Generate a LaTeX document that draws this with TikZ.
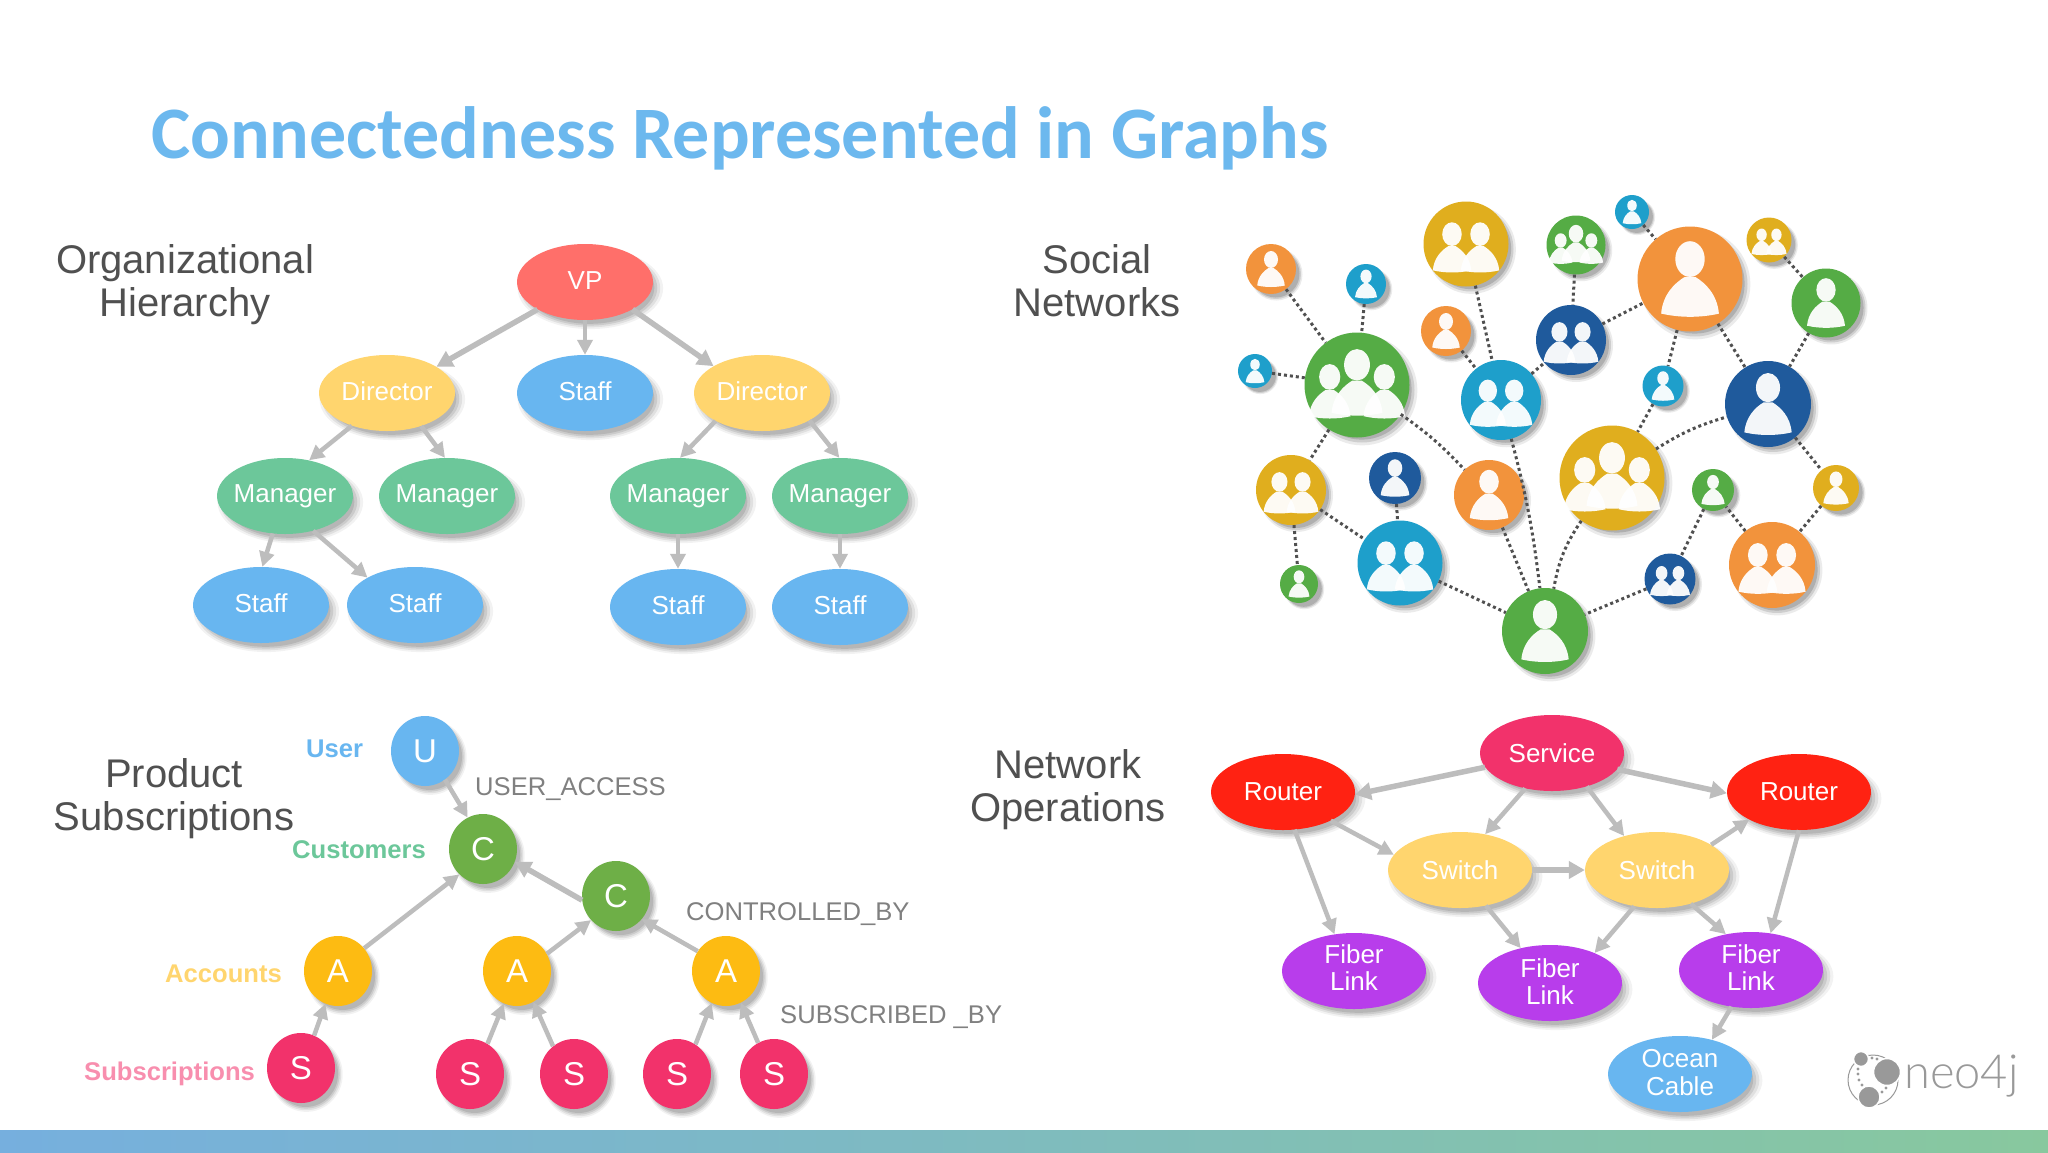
\documentclass[tikz,border=0pt]{standalone}
\usepackage{fontspec}
\setmainfont{Liberation Sans}
\newfontfamily\titlefont{Carlito}
\newfontfamily\logofont{Lato Light}
\usetikzlibrary{shapes.geometric,arrows.meta,shadows}

\definecolor{titleblue}{HTML}{6CB8EE}
\definecolor{headgrey}{HTML}{505050}
\definecolor{relgrey}{HTML}{808080}
\definecolor{edgegrey}{HTML}{BDBDBD}
\definecolor{dotgrey}{HTML}{505050}
\definecolor{cred}{HTML}{FF6F6A}
\definecolor{cyellow}{HTML}{FFD56E}
\definecolor{cblue}{HTML}{68B6F0}
\definecolor{cgreen}{HTML}{6CC79A}
\definecolor{cleaf}{HTML}{6EAF47}
\definecolor{camber}{HTML}{FDBB12}
\definecolor{cpink}{HTML}{F2326B}
\definecolor{crouter}{HTML}{FF2212}
\definecolor{cpurple}{HTML}{B83DEB}
\definecolor{sorange}{HTML}{F2933C}
\definecolor{steal}{HTML}{1E9FCB}
\definecolor{sgreen}{HTML}{55AC45}
\definecolor{snavy}{HTML}{1F5A9C}
\definecolor{syellow}{HTML}{E0AE1E}
\definecolor{bandl}{HTML}{76AFDE}
\definecolor{bandr}{HTML}{88C89E}
\definecolor{logogrey}{HTML}{999999}

\tikzset{
  x=1pt, y=-1pt,
  softshadow/.style={
    general shadow={shadow xshift=5pt,shadow yshift=-6pt,shadow scale=1.07,fill=black,opacity=.05},
    general shadow={shadow xshift=5pt,shadow yshift=-6pt,shadow scale=1.03,fill=black,opacity=.07},
    general shadow={shadow xshift=5pt,shadow yshift=-6pt,shadow scale=.99,fill=black,opacity=.09},
    general shadow={shadow xshift=5pt,shadow yshift=-6pt,shadow scale=.95,fill=black,opacity=.1}},
  heading/.style={align=center,text=headgrey,font=\fontsize{40}{43}\selectfont,inner sep=0},
  big/.style={ellipse,minimum width=136pt,minimum height=76pt,inner sep=-6pt,text=white,align=center,
    font=\fontsize{26}{27.5}\selectfont,softshadow},
  net/.style={big,minimum width=144pt},
  letter/.style={ellipse,minimum width=68pt,minimum height=70pt,inner sep=0,text=white,
    font=\fontsize{33}{33}\selectfont,softshadow},
  kind/.style={font=\fontsize{25.6}{26}\bfseries\selectfont,inner sep=0},
  rel/.style={text=relgrey,font=\fontsize{25.6}{26}\selectfont,inner sep=0},
  arrow/.style={draw=edgegrey,line width=5.5pt,-{Triangle[length=16pt,width=17pt]}},
  arrowthin/.style={arrow,line width=4.5pt,-{Triangle[length=15pt,width=15pt]}},
  soc/.style={circle,inner sep=0,minimum size=#1,
    general shadow={shadow xshift=5pt,shadow yshift=-5pt,shadow scale=1.05,fill=black,opacity=.08},
    general shadow={shadow xshift=5pt,shadow yshift=-5pt,shadow scale=1,fill=black,opacity=.12},
    general shadow={shadow xshift=5pt,shadow yshift=-5pt,shadow scale=.95,fill=black,opacity=.15}},
  link/.style={draw=dotgrey,line width=3pt,dash pattern=on 3pt off 3pt},
  pics/one/.style={code={\manat{0}{0}{1}}},
  pics/two/.style={code={\manat{-.33}{.08}{.82}\manat{.33}{.08}{.82}}},
  pics/three/.style={code={\manat{-.52}{.12}{.72}\manat{.52}{.12}{.72}\manat{0}{-.05}{.88}}},
}
\newcommand{\manat}[3]{%
  \begin{scope}[shift={(#1,#2)},scale=#3]
    \fill[white,opacity=.95] (0,-.38) ellipse (.28 and .34);
    \fill[white,opacity=.95] (-.55,.66) .. controls (-.52,.3) and (-.3,.08) .. (-.1,-.04)
      -- (.1,-.04) .. controls (.3,.08) and (.52,.3) .. (.55,.66) .. controls (.2,.74) and (-.2,.74) .. cycle;
  \end{scope}}

\begin{document}
\begin{tikzpicture}
  \useasboundingbox (0,0) rectangle (2048,1152);
  \fill[white] (0,0) rectangle (2048,1152);
  \shade[left color=bandl,right color=bandr] (0,1130) rectangle (2048,1152);

  \node[anchor=base west,inner sep=0,text=titleblue,font=\titlefont\fontsize{74}{74}\bfseries\selectfont] (title) at (151,158) {Connectedness Represented in Graphs};

  % organizational hierarchy
  \node[heading] (hOrg) at (185,285) {Organizational\\Hierarchy};
  \node[big,fill=cred,text depth=3pt] (vp) at (585,282) {VP};
  \node[big,fill=cyellow,text depth=3pt] (dl) at (387,393) {Director};
  \node[big,fill=cblue,text depth=3pt] (st) at (585,393) {Staff};
  \node[big,fill=cyellow,text depth=3pt] (dr) at (762,393) {Director};
  \node[big,fill=cgreen] (m1) at (285,496) {Manager};
  \node[big,fill=cgreen] (m2) at (447,496) {Manager};
  \node[big,fill=cgreen] (m3) at (678,496) {Manager};
  \node[big,fill=cgreen] (m4) at (840,496) {Manager};
  \node[big,fill=cblue,text depth=3pt] (s1) at (261,605) {Staff};
  \node[big,fill=cblue,text depth=3pt] (s2) at (415,605) {Staff};
  \node[big,fill=cblue,text depth=3pt] (s3) at (678,607) {Staff};
  \node[big,fill=cblue,text depth=3pt] (s4) at (840,607) {Staff};
  \draw[arrow] (vp.210) -- (dl.28);
  \draw[arrowthin] (vp.south) -- (st.north);
  \draw[arrow] (vp.330) -- (dr.151);
  \draw[arrowthin] (dl.223) -- (m1.56);
  \draw[arrowthin] (dl.316) -- (m2.93);
  \draw[arrowthin] (m1.252) -- (s1.88);
  \draw[arrowthin] (m1.309) -- (s2.150);
  \draw[arrowthin] (dr.211) -- (m3.87);
  \draw[arrowthin] (dr.330) -- (m4.91);
  \draw[arrowthin] (m3.south) -- (s3.north);
  \draw[arrowthin] (m4.south) -- (s4.north);

  % product subscriptions
  \node[heading] (hProd) at (174,799) {Product\\Subscriptions};
  \node[letter,fill=cblue] (u) at (425,751) {U};
  \node[letter,fill=cleaf] (c1) at (483,849) {C};
  \node[letter,fill=cleaf] (c2) at (616,896) {C};
  \node[letter,fill=camber] (a1) at (338,971) {A};
  \node[letter,fill=camber] (a2) at (517,971) {A};
  \node[letter,fill=camber] (a3) at (726,971) {A};
  \node[letter,fill=cpink] (p1) at (301,1068) {S};
  \node[letter,fill=cpink] (p2) at (470,1074) {S};
  \node[letter,fill=cpink] (p3) at (574,1074) {S};
  \node[letter,fill=cpink] (p4) at (677,1074) {S};
  \node[letter,fill=cpink] (p5) at (774,1074) {S};
  \draw[arrowthin] (u.305) -- (c1.116);
  \draw[arrow] (c2.187) -- (c1.338);
  \draw[arrowthin] (a1.41) -- (c1.227);
  \draw[arrowthin] (a2.30) -- (c2.224);
  \draw[arrowthin] (a3.145) -- (c2.318);
  \draw[arrowthin] (p1.68) -- (a1.249);
  \draw[arrowthin] (p2.60) -- (a2.248);
  \draw[arrowthin] (p3.127) -- (a2.298);
  \draw[arrowthin] (p4.58) -- (a3.246);
  \draw[arrowthin] (p5.117) -- (a3.295);
  \node[kind,text=cblue,anchor=west] (kU) at (306,749) {User};
  \node[kind,text=cgreen,anchor=west] (kC) at (292,850) {Customers};
  \node[kind,text=cyellow,anchor=west] (kA) at (165,974) {Accounts};
  \node[kind,text=cpink!55,anchor=west] (kS) at (84,1074) {Subscriptions};
  \node[rel,anchor=west] (rU) at (475,789) {USER\_ACCESS};
  \node[rel,anchor=west] (rC) at (686,914) {CONTROLLED\_BY};
  \node[rel,anchor=west] (rS) at (780,1017) {SUBSCRIBED \_BY};

  % social networks
  \node[heading] (hSoc) at (1097,281) {Social\\Networks};
  \foreach \nm/\xx/\yy/\dd/\cc/\ic in {
    a/1271/269/50/sorange/one, b/1366/284/40/steal/one, c/1466/244/85/syellow/two,
    d/1576/245/59/sgreen/three, e/1632/212/34/steal/one, f/1690/279/105/sorange/one,
    g/1769/240/45/syellow/two, h/1826/303/69/sgreen/one, i/1446/331/50/sorange/one,
    j/1571/340/70/snavy/two, k/1255/371/34/steal/one, l/1357/385/105/sgreen/three,
    m/1501/400/80/steal/two, n/1663/386/41/steal/one, o/1768/404/86/snavy/one,
    q/1291/490/70/syellow/two, r/1395/478/52/snavy/one, t/1489/495/70/sorange/one,
    v/1612/478/105/syellow/three, w/1713/490/42/sgreen/one, z/1836/488/46/syellow/one,
    A/1400/563/85/steal/two, B/1299/584/38/sgreen/one, C/1670/579/51/snavy/two,
    D/1772/565/86/sorange/two, E/1545/631/86/sgreen/one} {
    \node[soc=\dd pt,fill=\cc] (n\nm) at (\xx,\yy) {};
    \pic[scale=\dd/2] at (n\nm) {\ic};
  }
  \foreach \p/\q in {a/l,b/l,k/l,l/q,c/m,i/m,m/j,d/j,j/f,e/f,g/h,f/n,f/o,h/o,n/v,o/z,z/D,D/w,w/C,C/E,t/E,A/E,r/A,q/A,q/B}
    \draw[link] (n\p) -- (n\q);
  \draw[link] (nl) to[bend left=6] (nt);
  \draw[link] (nm) to[bend left=4] (nE);
  \draw[link] (nv) to[bend right=12] (nE);
  \draw[link] (nv) to[bend left=8] (no);

  % network operations
  \node[heading] (hNet) at (1068,790) {Network\\Operations};
  \node[net,fill=cpink] (svc) at (1552,753) {Service};
  \node[net,fill=crouter] (rl) at (1283,792) {Router};
  \node[net,fill=crouter] (rr) at (1799,792) {Router};
  \node[net,fill=cyellow] (w1) at (1460,870) {Switch};
  \node[net,fill=cyellow] (w2) at (1657,870) {Switch};
  \node[net,fill=cpurple,text depth=7pt] (f1) at (1354,971) {Fiber\\Link};
  \node[net,fill=cpurple,text depth=3pt] (f2) at (1550,983) {Fiber\\Link};
  \node[net,fill=cpurple,text depth=5pt] (f3) at (1751,970) {Fiber\\Link};
  \node[net,fill=cblue,text depth=3pt] (oc) at (1680,1074) {Ocean\\Cable};
  \draw[arrow] (svc.192) -- (rl.358);
  \draw[arrow] (svc.346) -- (rr.181);
  \draw[arrowthin] (svc.233) -- (w1.55);
  \draw[arrowthin] (svc.316) -- (w2.134);
  \draw[arrowthin] (rl.329) -- (w1.167);
  \draw[arrow] (w1.east) -- (w2.west);
  \draw[arrowthin] (w2.25) -- (rr.209);
  \draw[arrowthin] (rl.287) -- (f1.118);
  \draw[arrowthin] (rr.270) -- (f3.62);
  \draw[arrowthin] (w1.306) -- (f2.130);
  \draw[arrowthin] (w2.238) -- (f2.34);
  \draw[arrowthin] (w2.315) -- (f3.125);
  \draw[arrowthin] (f3.242) -- (oc.47);

  % logo
  \draw[logogrey,line width=1pt] (1873,1080) circle (25);
  \fill[logogrey,draw=white,line width=1.5pt] (1887,1072) circle (13.5);
  \fill[logogrey,draw=white,line width=1.5pt] (1869,1097) circle (11);
  \fill[logogrey,draw=white,line width=1.5pt] (1861,1059) circle (7.5);
  \foreach \xx/\yy in {1858/1069,1858/1074,1859/1080,1862/1085,1866/1089,1872/1058,1877/1059,1886/1088,1882/1092}
    \fill[logogrey] (\xx,\yy) circle (1.6);
  \node[anchor=west,inner sep=0,text=logogrey,font=\logofont\fontsize{47}{47}\selectfont] (logo) at (1904,1076) {neo4j};
\end{tikzpicture}
\end{document}
